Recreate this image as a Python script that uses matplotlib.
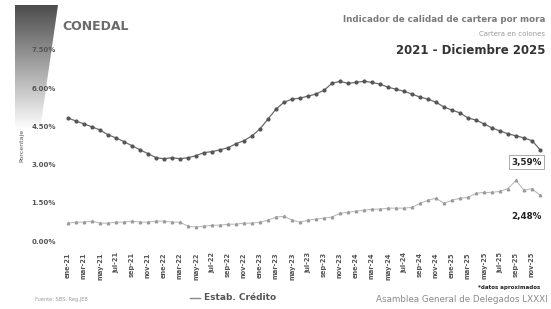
import matplotlib
matplotlib.use("Agg")
import matplotlib.pyplot as plt
import numpy as np
from matplotlib.path import Path
from matplotlib.patches import PathPatch

plt.rcParams['font.family'] = ['DejaVu Sans']

meses = ["ene", "feb", "mar", "abr", "may", "jun", "jul", "ago", "sep", "oct", "nov", "dic"]
years = ["21", "22", "23", "24", "25"]
categories = [f"{m}-{y}" for y in years for m in meses]

mora_total = [4.83, 4.71, 4.60, 4.48, 4.36, 4.17, 4.05, 3.90, 3.74, 3.58,
              3.43, 3.27, 3.23, 3.27, 3.23, 3.27, 3.35, 3.47, 3.51, 3.58,
              3.66, 3.82, 3.94, 4.13, 4.40, 4.79, 5.18, 5.45, 5.57, 5.61,
              5.69, 5.77, 5.92, 6.19, 6.27, 6.19, 6.23, 6.27, 6.23, 6.16,
              6.04, 5.96, 5.88, 5.77, 5.65, 5.57, 5.45, 5.26, 5.14, 5.03,
              4.83, 4.75, 4.60, 4.44, 4.32, 4.21, 4.13, 4.05, 3.94, 3.59]

estab_credito = [0.70, 0.74, 0.74, 0.78, 0.70, 0.70, 0.74, 0.74, 0.78, 0.74,
                 0.74, 0.78, 0.78, 0.74, 0.74, 0.58, 0.55, 0.58, 0.62, 0.62,
                 0.66, 0.66, 0.70, 0.70, 0.74, 0.82, 0.94, 0.97, 0.82, 0.74,
                 0.82, 0.86, 0.90, 0.94, 1.09, 1.13, 1.17, 1.21, 1.25, 1.25,
                 1.29, 1.29, 1.29, 1.32, 1.48, 1.60, 1.68, 1.48, 1.60, 1.68,
                 1.71, 1.87, 1.91, 1.91, 1.95, 2.06, 2.38, 1.99, 2.06, 1.79]

yticks = [0.0, 1.5, 3.0, 4.5, 6.0, 7.5]
ytick_labels = ["0.00%", "1.50%", "3.00%", "4.50%", "6.00%", "7.50%"]

W, H = 551, 309
fig = plt.figure(figsize=(W / 100, H / 100), dpi=100)

# background decoration: gradient trapezoid top-left
bg = fig.add_axes([0, 0, 1, 1], zorder=0)
bg.set_xlim(0, W)
bg.set_ylim(H, 0)
bg.axis('off')
grad = np.linspace(0.3, 1.0, 256).reshape(-1, 1)
im = bg.imshow(grad, cmap='gray', vmin=0, vmax=1, extent=[12, 60, 130, 5], aspect='auto')
verts = [(15, 5), (58, 5), (40, 130), (15, 130), (15, 5)]
clip = PathPatch(Path(verts), transform=bg.transData, facecolor='none', edgecolor='none')
bg.add_patch(clip)
im.set_clip_path(clip)

# main axes
left, right = 60 / W, 548 / W
top_px, bot_px = 50, 241
ax = fig.add_axes([left, 1 - bot_px / H, right - left, (bot_px - top_px) / H], zorder=2)
ax.patch.set_alpha(0)
x = np.arange(len(categories))
ax.plot(x, mora_total, color='#6b6b6b', lw=0.9, marker='o', ms=2.0,
        mfc='#555555', mec='#555555', zorder=3)
ax.plot(x, estab_credito, color='#b5b5b5', lw=0.7, marker='^', ms=1.8,
        mfc='#9a9a9a', mec='#9a9a9a', zorder=3, label='Estab. Crédito')

ax.set_xlim(-1, 60)
ax.set_ylim(0, 7.5)
ax.set_yticks(yticks)
ax.set_yticklabels(ytick_labels, fontsize=5, fontweight='bold', color='#555555')
ax.set_xticks(x[::2])
ax.set_xticklabels(categories[::2], rotation=90, fontsize=4.8, color='#555555', fontweight='bold')
ax.tick_params(axis='y', length=0, pad=3)
ax.tick_params(axis='x', length=0, pad=8)
for s in ax.spines.values():
    s.set_visible(False)
ax.axhline(0, color='#e6e6e6', lw=0.6, zorder=1)
ax.set_ylabel("Porcentaje", fontsize=4.5, color='#555555', labelpad=5)

# end labels
ax.annotate("3,59%", (59, mora_total[-1]), xytext=(57.3, 3.1), fontsize=6.3, fontweight='bold',
            color='#222222', ha='center', va='center',
            bbox=dict(boxstyle='square,pad=0.25', fc='white', ec='#888888', lw=0.5))
ax.text(57.3, 0.95, "2,48%", fontsize=6.3, fontweight='bold', color='#222222', ha='center', va='center')

# titles
fig.text(545 / W, 1 - 20 / H, "Indicador de calidad de cartera por mora", ha='right', va='center',
         fontsize=6.3, fontweight='bold', color='#7a7a7a')
fig.text(545 / W, 1 - 34 / H, "Cartera en colones", ha='right', va='center',
         fontsize=5, color='#9a9a9a')
fig.text(545 / W, 1 - 50 / H, "2021 - Diciembre 2025", ha='right', va='center',
         fontsize=8.5, fontweight='bold', color='#333333')

# logo
fig.text(62 / W, 1 - 27 / H, "CONEDAL", ha='left', va='center', fontsize=9,
         fontweight='bold', color='#6a6a6a')

# legend
fig.lines.append(plt.Line2D([190 / W, 200 / W], [1 - 298 / H, 1 - 298 / H], color='#888888', lw=1.0,
                            transform=fig.transFigure))
fig.text(204 / W, 1 - 298 / H, "Estab. Crédito", ha='left', va='center', fontsize=6.5,
         fontweight='bold', color='#555555')

# footers
fig.text(35 / W, 1 - 299 / H, "Fuente: SBS, Reg.JEB", ha='left', va='center', fontsize=3.6, color='#9a9a9a')
fig.text(540 / W, 1 - 288 / H, "*datos aproximados", ha='right', va='center', fontsize=4,
         fontweight='bold', color='#222222')
fig.text(548 / W, 1 - 299 / H, "Asamblea General de Delegados LXXXI", ha='right', va='center',
         fontsize=6.3, color='#8a8a8a')

fig.savefig("out.png", dpi=100, facecolor='white')
